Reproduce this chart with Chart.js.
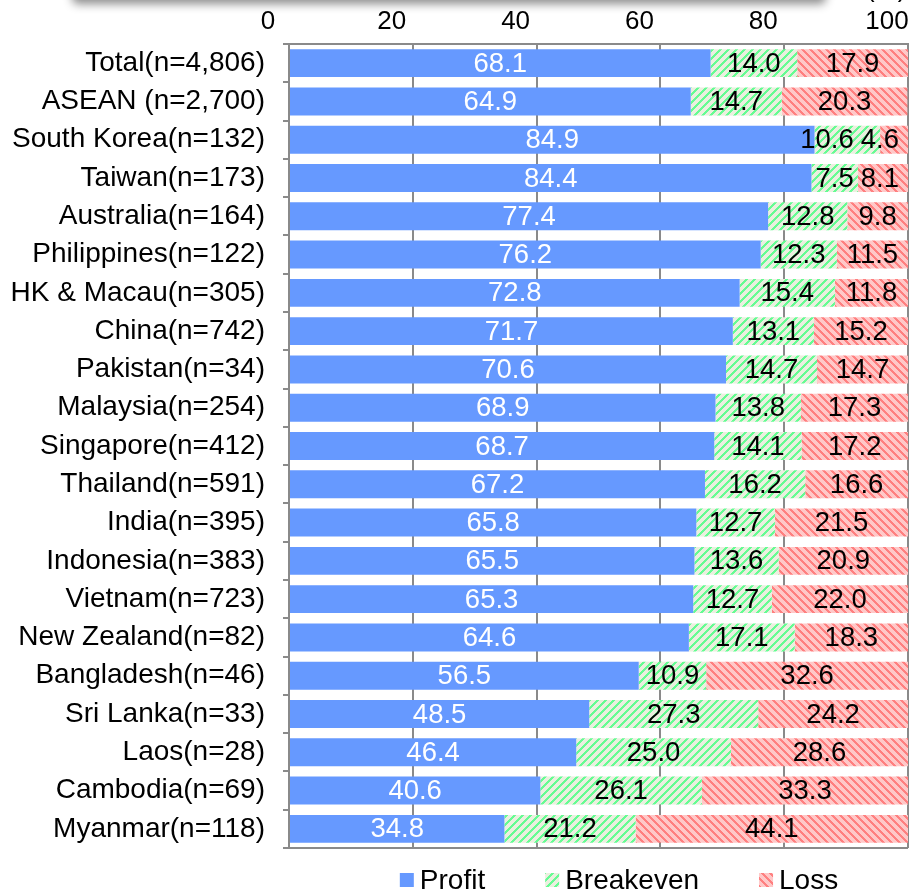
<!DOCTYPE html>
<html>
<head>
<meta charset="utf-8">
<script src="https://cdn.jsdelivr.net/npm/chart.js@4.4.1/dist/chart.umd.min.js"></script>
<style>
  html, body { margin: 0; padding: 0; background: #ffffff; }
  #wrap { width: 911px; height: 892px; position: relative; }
</style>
</head>
<body>
<div id="wrap"><canvas id="c" width="911" height="892"></canvas></div>
<script>
const categories = ["Total(n=4,806)", "ASEAN (n=2,700)", "South Korea(n=132)", "Taiwan(n=173)", "Australia(n=164)", "Philippines(n=122)", "HK & Macau(n=305)", "China(n=742)", "Pakistan(n=34)", "Malaysia(n=254)", "Singapore(n=412)", "Thailand(n=591)", "India(n=395)", "Indonesia(n=383)", "Vietnam(n=723)", "New Zealand(n=82)", "Bangladesh(n=46)", "Sri Lanka(n=33)", "Laos(n=28)", "Cambodia(n=69)", "Myanmar(n=118)"];
const profit    = [68.1, 64.9, 84.9, 84.4, 77.4, 76.2, 72.8, 71.7, 70.6, 68.9, 68.7, 67.2, 65.8, 65.5, 65.3, 64.6, 56.5, 48.5, 46.4, 40.6, 34.8];
const breakeven = [14.0, 14.7, 10.6, 7.5, 12.8, 12.3, 15.4, 13.1, 14.7, 13.8, 14.1, 16.2, 12.7, 13.6, 12.7, 17.1, 10.9, 27.3, 25.0, 26.1, 21.2];
const loss      = [17.9, 20.3, 4.6, 8.1, 9.8, 11.5, 11.8, 15.2, 14.7, 17.3, 17.2, 16.6, 21.5, 20.9, 22.0, 18.3, 32.6, 24.2, 28.6, 33.3, 44.1];
const seriesNames = ["Profit", "Breakeven", "Loss"];
const xTicks = [0, 20, 40, 60, 80, 100];
const unitLabel = "(%)";

const FONT = "'Liberation Sans', Arial, sans-serif";
const GRID = '#8a8a8a';

function stripePattern(bg, fg, dir) {
  const n = 8;
  const cv = document.createElement('canvas');
  cv.width = n; cv.height = n;
  const cx = cv.getContext('2d');
  const img = cx.createImageData(n, n);
  const p = h => [parseInt(h.slice(1,3),16), parseInt(h.slice(3,5),16), parseInt(h.slice(5,7),16)];
  const b = p(bg), f = p(fg);
  for (let y = 0; y < n; y++) {
    for (let x = 0; x < n; x++) {
      const k = dir > 0 ? ((x + y) % n) : (((x - y) % n) + n) % n;
      const c = k < 3 ? f : b;
      const i = (y * n + x) * 4;
      img.data[i] = c[0]; img.data[i+1] = c[1]; img.data[i+2] = c[2]; img.data[i+3] = 255;
    }
  }
  cx.putImageData(img, 0, 0);
  return cx.createPattern(cv, 'repeat');
}
const ctx0 = document.getElementById('c').getContext('2d');
const greenPat = stripePattern('#ebefdf', '#66fc93', 1);
const pinkPat = stripePattern('#ffc8c8', '#ff8080', -1);
const fills = ['#6699ff', greenPat, pinkPat];
const labelColors = ['#ffffff', '#000000', '#000000'];

const decorPlugin = {
  id: 'decor',
  beforeDraw(chart) {
    const c = chart.ctx;
    c.save();
    c.fillStyle = '#ffffff';
    c.fillRect(0, 0, chart.width, chart.height);
    // cut-off title box with shadow
    c.shadowColor = 'rgba(0,0,0,0.45)';
    c.shadowBlur = 10;
    c.shadowOffsetY = 4;
    c.beginPath();
    c.roundRect(72, -44, 754, 44, 6);
    c.fillStyle = '#ffffff';
    c.fill();
    c.restore();
    c.save();
    c.fillStyle = '#000';
    c.font = '26px ' + FONT;
    c.textBaseline = 'alphabetic';
    c.textAlign = 'left';
    c.fillText(unitLabel, 866, -3);
    c.restore();
  },
  afterDraw(chart) {
    const c = chart.ctx;
    const ca = chart.chartArea;
    c.save();
    // bottom line
    c.strokeStyle = GRID;
    c.lineWidth = 2;
    c.beginPath();
    c.moveTo(283, ca.bottom);
    c.lineTo(ca.right, ca.bottom);
    c.stroke();

    // data labels
    c.font = '27.5px ' + FONT;
    c.textBaseline = 'middle';
    c.textAlign = 'left';
    const n = chart.data.labels.length;
    for (let i = 0; i < n; i++) {
      const items = [];
      chart.data.datasets.forEach((ds, d) => {
        const el = chart.getDatasetMeta(d).data[i];
        const x1 = Math.min(el.x, ca.right), x0 = Math.max(el.base, ca.left);
        const txt = ds.data[i].toFixed(1);
        const w = c.measureText(txt).width;
        items.push({ txt, w, cx: (x0 + x1) / 2, y: el.y, color: labelColors[d] });
      });
      let limit = ca.right - 9;
      for (let k = items.length - 1; k >= 0; k--) {
        const it = items[k];
        let left = it.cx - it.w / 2;
        if (left + it.w > limit) left = limit - it.w;
        it.left = left;
        limit = left - 7;
      }
      items.forEach(it => {
        c.fillStyle = it.color;
        c.fillText(it.txt, it.left, it.y + 1);
      });
    }

    // legend
    c.font = '28px ' + FONT;
    c.textBaseline = 'middle';
    const box = 14, gapT = 6, gapI = 60;
    let total = 0;
    const ws = seriesNames.map(s => c.measureText(s).width);
    ws.forEach((w, k) => { total += box + gapT + w + (k < ws.length - 1 ? gapI : 0); });
    let x = 619 - total / 2;
    const ly = 880;
    seriesNames.forEach((s, k) => {
      c.fillStyle = fills[k];
      c.fillRect(x, ly - 7, box, box);
      c.fillStyle = '#000';
      c.fillText(s, x + box + gapT, ly + 1);
      x += box + gapT + ws[k] + gapI;
    });
    c.restore();
  }
};

new Chart(ctx0, {
  type: 'bar',
  data: {
    labels: categories,
    datasets: [
      { label: seriesNames[0], data: profit, backgroundColor: fills[0] },
      { label: seriesNames[1], data: breakeven, backgroundColor: fills[1] },
      { label: seriesNames[2], data: loss, backgroundColor: fills[2] }
    ]
  },
  options: {
    indexAxis: 'y',
    responsive: false,
    animation: false,
    events: [],
    layout: { padding: { left: 0, right: 3, top: 0, bottom: 44 } },
    datasets: { bar: { categoryPercentage: 1, barPercentage: 0.73, borderWidth: 0 } },
    plugins: { legend: { display: false }, tooltip: { enabled: false } },
    scales: {
      x: {
        position: 'top',
        stacked: true,
        min: 0, max: 100,
        afterBuildTicks: s => { s.ticks = xTicks.map(v => ({ value: v })); },
        afterFit: s => { s.height = 44; s.paddingLeft = 0; s.paddingRight = 0; },
        grid: { color: GRID, lineWidth: 2, drawTicks: false },
        border: { color: GRID, width: 2 },
        ticks: { color: '#000', font: { family: FONT, size: 26 }, padding: 7, labelOffset: -21, maxRotation: 0 }
      },
      y: {
        stacked: true,
        afterFit: s => { s.width = 289; s.paddingTop = 0; s.paddingBottom = 0; },
        grid: { display: true, drawOnChartArea: false, drawTicks: true, tickLength: 6, color: GRID, lineWidth: 2, offset: true },
        border: { color: GRID, width: 2 },
        ticks: { color: '#000', font: { family: FONT, size: 28 }, padding: 18, autoSkip: false }
      }
    }
  },
  plugins: [decorPlugin]
});
</script>
</body>
</html>
